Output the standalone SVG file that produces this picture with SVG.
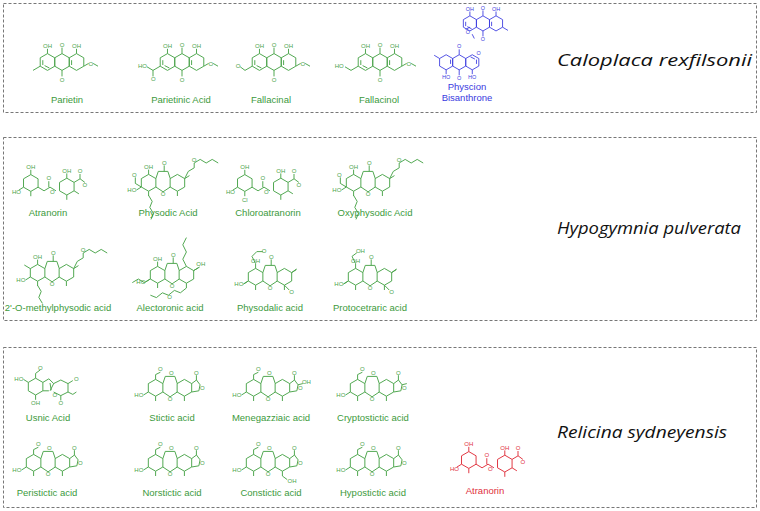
<svg xmlns="http://www.w3.org/2000/svg" width="760" height="511" viewBox="0 0 760 511">
<style>
.box{fill:none;stroke:#777;stroke-width:1;stroke-dasharray:3,2}
.lb{font-family:"Liberation Sans",Arial,sans-serif;font-size:9.5px;text-anchor:middle;fill:#3c9a3c}
.sp{font-family:"Open Sans","Liberation Sans",sans-serif;font-size:17px;font-style:italic;fill:#111}
.g{color:#4aa44a}.b{color:#3a3ae0}.r{color:#e0303c}
.m path, defs path{fill:none;stroke:currentColor;stroke-width:0.8}
.m text, defs text{font-family:"Liberation Sans",sans-serif;font-size:5px;fill:currentColor;text-anchor:middle}
</style>
<defs>
<g id="aq">
<path d="M-12.1,-7 l6.06,3.5 v7 l-6.06,3.5 l-6.06,-3.5 v-7z M0,-7 l6.06,3.5 v7 l-6.06,3.5 l-6.06,-3.5 v-7z M12.1,-7 l6.06,3.5 v7 l-6.06,3.5 l-6.06,-3.5 v-7z M0,-7 v-5 M0,7 v5 M-12.1,-7 v-4 M12.1,-7 v-4 M-16,-1.5 v4 M8,-1.5 v4 M-10.5,5 l-4,-2"/>
<text x="0" y="-12.5">O</text><text x="0" y="16.5">O</text><text x="-12.1" y="-11.5">OH</text><text x="12.1" y="-11.5">OH</text>
</g>
<g id="ds">
<path d="M-16,-7 l6.06,3.5 v7 l-6.06,3.5 l-6.06,-3.5 v-7z M14,-4 l6.06,3.5 v7 l-6.06,3.5 l-6.06,-3.5 v-7z M-9.94,3.5 l5,3 l5,-3 l4.9,3 M-1,3.5 v-5 M-16,-7 v-4 M-22.06,3.5 l-4,2.5 M-16,7 v4 M14,-4 v-4 M20.06,-0.5 l5,-3 l4,3 M25,-3.5 v-4 M14,10 v4 M20.06,6.5 l4,2.5"/>
<text x="-1" y="-2.5">O</text><text x="2" y="9">O</text><text x="-16" y="-11.5">OH</text><text x="-28" y="9">HO</text><text x="14" y="-8.5">OH</text><text x="29" y="3">O</text><text x="25" y="-8">O</text>
</g>
<g id="dn">
<path d="M-12,-3 l6.06,3.5 v7 l-6.06,3.5 l-6.06,-3.5 v-7z M12,-3 l6.06,3.5 v7 l-6.06,3.5 l-6.06,-3.5 v-7z M-5.94,0.5 l2,-6 h8 l2,6 M-5.94,7.5 l6,4 l6,-4 M1,-5.5 v-5 M-12,-3 v-4 M-18.06,7.5 l-4,2.5 M-12,11 v4 M18.06,0.5 l4,-2.5 M12,11 v4"/>
<text x="1" y="-10.5">O</text><text x="0" y="15">O</text><text x="-12" y="-7.5">OH</text><text x="-26" y="12">HO</text>
</g>
<g id="us">
<path d="M-12,-4 l6.06,3.5 v7 l-6.06,3.5 l-6.06,-3.5 v-7z M-5.94,-0.5 l5,-3 l4,4 l-3,6 M-5.94,6.5 l5,0 M3,0.5 l6,-3 l6,3 v7 l-6,3 l-6,-3 M-12,-4 v-4 l4,-3 M-18.06,-0.5 l-4,-2.5 M-12,10 v4 M15,0.5 l4,-2.5 M9,10.5 v4 M15,7.5 l4,2 l3,-2 M0,0 l1,6"/>
<text x="-8" y="-11">O</text><text x="-26" y="-2">HO</text><text x="-12" y="18">OH</text><text x="22" y="-2">O</text><text x="9" y="18">O</text><text x="4" y="12">O</text>
</g>
<g id="st">
<path d="M-12,-3 l6.06,3.5 v7 l-6.06,3.5 l-6.06,-3.5 v-7z M12,-3 l6.06,3.5 v7 l-6.06,3.5 l-6.06,-3.5 v-7z M-5.94,0.5 l2,-6 h8 l2,6 M-5.94,7.5 l6,4 l6,-4 M18.06,0.5 l4,-3 l3,4 l-1,5 l-5.94,1 M22,-2.5 v-4 M-12,-3 v-4 l4,-2 M-18.06,7.5 l-4,2.5 M-12,11 v4 M12,11 v4"/>
<text x="1" y="-6.5">O</text><text x="0" y="15">O</text><text x="22" y="-7">O</text><text x="27" y="6">O</text><text x="-8" y="-10">O</text><text x="-26" y="12">HO</text>
</g>
</defs>

<rect class="box" x="3.5" y="3.5" width="753" height="109"/>
<rect class="box" x="3.5" y="137.5" width="753" height="183"/>
<rect class="box" x="3.5" y="347.5" width="753" height="160"/>

<g id="parietin" class="m g" transform="translate(62,62) scale(1.2)"><use href="#aq"/><path d="M-18.16,3.5 l-6,3.5 M18.16,3.5 l4,-2.3 M26,1.2 l4,2.3"/><text x="24" y="3">O</text></g>
<g id="parietinic-acid" class="m g" transform="translate(182,62) scale(1.2)"><use href="#aq"/><path d="M-18.16,3.5 l-6,3.5 l-5,-3 M-24.16,7 v5 M18.16,3.5 l4,-2.3 M26,1.2 l4,2.3"/><text x="24" y="3">O</text><text x="-33" y="5">HO</text><text x="-24" y="16">O</text></g>
<g id="fallacinal" class="m g" transform="translate(274,62) scale(1.2)"><use href="#aq"/><path d="M-18.16,3.5 l-6,3.5 l-4,-3 M18.16,3.5 l4,-2.3 M26,1.2 l4,2.3"/><text x="24" y="3">O</text><text x="-30" y="5">O</text></g>
<g id="fallacinol" class="m g" transform="translate(380,62) scale(1.2)"><use href="#aq"/><path d="M-18.16,3.5 l-6,3.5 l-5,-3 M18.16,3.5 l4,-2.3 M26,1.2 l4,2.3"/><text x="24" y="3">O</text><text x="-34" y="5">HO</text></g>
<g id="physcion-bisanthrone" class="m b" transform="translate(470,45) scale(1.08)"><use href="#aq" transform="translate(12,-20)"/><use href="#aq" transform="translate(-10,16) rotate(180)"/><path d="M30.16,-16.5 l5,3 M-28.16,12.5 l-5,-3 M-0.06,-16.5 l-4,2 M2,-10 l2,4"/><text x="-2" y="-10">O</text><text x="8" y="9">O</text></g>

<text class="lb" x="67" y="103">Parietin</text>
<text class="lb" x="181" y="103">Parietinic Acid</text>
<text class="lb" x="271" y="103">Fallacinal</text>
<text class="lb" x="379" y="103">Fallacinol</text>
<text class="lb" x="467" y="90" style="fill:#3a3ae0">Physcion</text>
<text class="lb" x="467" y="101" style="fill:#3a3ae0">Bisanthrone</text>
<text class="sp" x="557" y="66" textLength="195" lengthAdjust="spacingAndGlyphs">Caloplaca rexfilsonii</text>

<g id="atranorin-h" class="m g" transform="translate(50,183) scale(1.2)"><use href="#ds"/></g>
<g id="physodic-acid" class="m g" transform="translate(163,178) scale(1.2)"><use href="#dn"/><path d="M18.06,0.5 l3,-6 l5,-3 M26,-8.5 v-4 l5,-3 l5,3 l5,-3 l5,3 M-12,14.5 l3,5 l-2,5 l3,5 l-2,5 M-18.06,7.5 l-5,-3 v-5"/><text x="-24" y="-1">O</text><text x="26" y="-13">O</text></g>
<g id="chloroatranorin" class="m g" transform="translate(264,183) scale(1.2)"><use href="#ds"/><text x="-16" y="16">Cl</text></g>
<g id="oxyphysodic-acid" class="m g" transform="translate(368,178) scale(1.2)"><use href="#dn"/><path d="M18.06,0.5 l3,-6 l5,-3 M26,-8.5 v-4 l5,-3 l5,3 l5,-3 l5,3 M-12,14.5 l3,5 l-2,5 l3,5 l-2,5 M-18.06,7.5 l-5,-3 v-5"/><text x="-24" y="-1">O</text><text x="26" y="-13">O</text></g>
<text class="lb" x="48" y="216">Atranorin</text>
<text class="lb" x="168" y="216">Physodic Acid</text>
<text class="lb" x="268" y="216">Chloroatranorin</text>
<text class="lb" x="375" y="216">Oxyphysodic Acid</text>

<g id="o-methylphysodic-acid" class="m g" transform="translate(52,268) scale(1.2)"><use href="#dn"/><path d="M18.06,0.5 l3,-6 l5,-3 M26,-8.5 v-4 l5,-3 l5,3 l5,-3 l5,3 M-12,14.5 l3,5 l-2,5 l3,5 M-18.06,0.5 l-5,-3"/><text x="26" y="-13">O</text></g>
<g id="alectoronic-acid" class="m g" transform="translate(172,270) scale(1.2)"><use href="#dn"/><path d="M12,-3 l-3,-6 l3,-6 l-3,-6 l3,-6 M18.06,0.5 l5,-3 M12,15 l-5,4 l-5,-2 l-5,4 l-5,-2 l-5,4 l-5,-2 M-18.06,7.5 l-5,3 l-5,-3 l-5,3"/><text x="-2" y="24">O</text><text x="24" y="-3">OH</text></g>
<g id="physodalic-acid" class="m g" transform="translate(270,272) scale(1.2)"><use href="#dn"/><path d="M-12,-7 l-3,-6 l4,-4 l5,0 M18.06,0.5 l4,-3 M12,11 l4,4 M-18.06,7.5 l-4,2.5"/><text x="-5" y="-16">O</text><text x="18" y="18">O</text></g>
<g id="protocetraric-acid" class="m g" transform="translate(370,272) scale(1.2)"><use href="#dn"/><path d="M-12,-7 l-3,-6 l4,-3 M18.06,0.5 l4,-3 M12,11 l4,4 M-18.06,7.5 l-4,2.5"/><text x="-8" y="-16">OH</text><text x="18" y="18">O</text></g>
<text class="lb" x="58" y="311">2'-O-methylphysodic acid</text>
<text class="lb" x="170" y="311">Alectoronic acid</text>
<text class="lb" x="270" y="311">Physodalic acid</text>
<text class="lb" x="370" y="311">Protocetraric acid</text>
<text class="sp" x="557" y="234" textLength="184" lengthAdjust="spacingAndGlyphs">Hypogymnia pulverata</text>

<g id="usnic-acid" class="m g" transform="translate(50,383) scale(1.2)"><use href="#us"/></g>
<g id="stictic-acid" class="m g" transform="translate(170,383) scale(1.2)"><use href="#st"/></g>
<g id="menegazziaic-acid" class="m g" transform="translate(268,383) scale(1.2)"><use href="#st"/><path d="M25,1.5 l4,-1"/><text x="32" y="1">OH</text></g>
<g id="cryptostictic-acid" class="m g" transform="translate(372,383) scale(1.2)"><use href="#st"/><path d="M25,1.5 l4,-1"/></g>
<text class="lb" x="48" y="421">Usnic Acid</text>
<text class="lb" x="172" y="421">Stictic acid</text>
<text class="lb" x="271" y="421">Menegazziaic acid</text>
<text class="lb" x="373" y="421">Cryptostictic acid</text>

<g id="peristictic-acid" class="m g" transform="translate(48,458) scale(1.2)"><use href="#st"/></g>
<g id="norstictic-acid" class="m g" transform="translate(170,458) scale(1.2)"><use href="#st"/></g>
<g id="constictic-acid" class="m g" transform="translate(268,458) scale(1.2)"><use href="#st"/><path d="M12,15 l4,3"/><text x="20" y="21">OH</text></g>
<g id="hypostictic-acid" class="m g" transform="translate(372,458) scale(1.2)"><use href="#st"/></g>
<g id="atranorin-r" class="m r" transform="translate(488,460) scale(1.2)"><use href="#ds"/></g>
<text class="lb" x="47" y="496">Peristictic acid</text>
<text class="lb" x="172" y="496">Norstictic acid</text>
<text class="lb" x="271" y="496">Constictic acid</text>
<text class="lb" x="373" y="496">Hypostictic acid</text>
<text class="lb" x="485" y="494" style="fill:#e0303c">Atranorin</text>
<text class="sp" x="557" y="438" textLength="170" lengthAdjust="spacingAndGlyphs">Relicina sydneyensis</text>
</svg>
